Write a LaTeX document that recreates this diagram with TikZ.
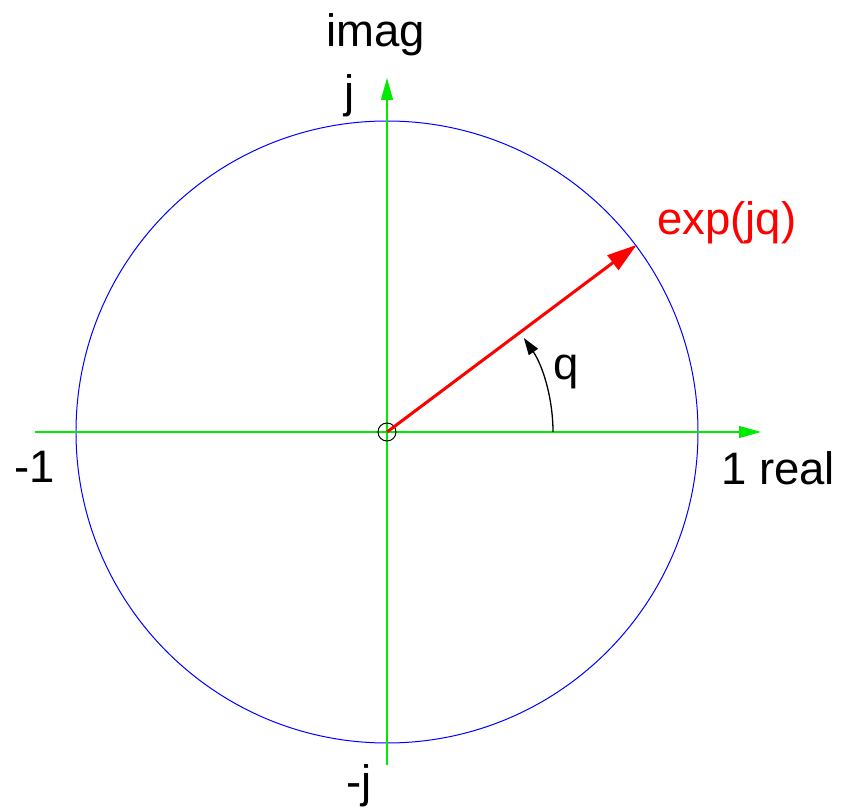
\documentclass[tikz,border=0pt]{standalone}
\usepackage{fontspec}
\setmainfont{Liberation Sans}
\usetikzlibrary{arrows.meta}
\definecolor{axgreen}{RGB}{0,235,0}
\begin{document}
\begin{tikzpicture}[x=1pt,y=1pt,
  lbl/.style={inner sep=0pt,anchor=base west,font=\fontsize{45.5}{50}\selectfont},
  axisarrow/.style={color=axgreen,line width=1.2pt,-{Triangle[length=22pt,width=12pt]}},
  unitc/.style={draw=blue,line width=1pt},
  phasor/.style={color=red,line width=3pt,-{Triangle[length=30pt,width=18pt]}},
  anglearc/.style={color=black,line width=1.3pt,-{Triangle[length=17pt,width=11pt]}}]
\useasboundingbox (0,0) rectangle (841,807);
\coordinate (O) at (387,375);
\coordinate (xl) at (35,375);
\coordinate (xr) at (761,375);
\coordinate (yb) at (387,42);
\coordinate (yt) at (387,729);
\coordinate (P) at (636.8,562.2);
\coordinate (A0) at (553,375);
\draw[unitc] (O) circle[radius=311];
\draw[axisarrow] (xl) -- (xr);
\draw[axisarrow] (yb) -- (yt);
\node[draw=black,line width=1pt,circle,minimum size=18pt,inner sep=0pt] (oc) at (O) {};
\draw[phasor] (O) -- (P);
\draw[anglearc] (A0) arc[start angle=0,end angle=34.5,radius=166];
\node[lbl] (imag) at (326,760) {imag};
\node[lbl,anchor=base] (j) at (350,699) {j};
\node[lbl,text=red] (exp) at (657,572) {exp(jq)};
\node[lbl] (q) at (553,427) {q};
\node[lbl] (real) at (721,322) {1 real};
\node[lbl] (m1) at (14,324) {-1};
\node[lbl] (mj) at (346,10) {-j};
\end{tikzpicture}
\end{document}
